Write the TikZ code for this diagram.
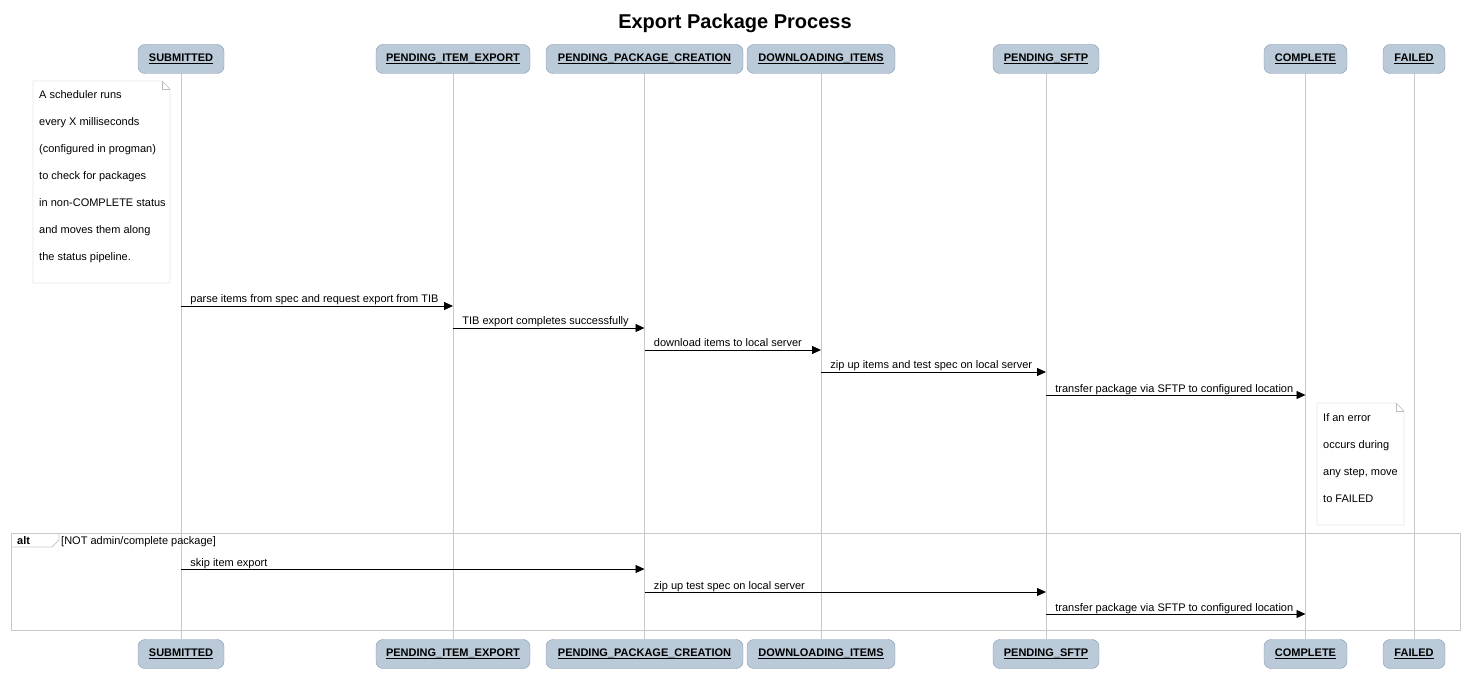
\documentclass[tikz,border=0pt]{standalone}
\usepackage{fontspec}
\setmainfont{Liberation Sans}
\usetikzlibrary{arrows.meta}
\definecolor{partfill}{HTML}{BACAD8}
\definecolor{partline}{HTML}{8497B0}
\definecolor{lifegray}{HTML}{C8C8C8}
\definecolor{notegray}{HTML}{BBBBBB}
% underline that runs through the underscores
\newcommand{\ulabel}[1]{\setbox0\hbox{#1}\rlap{\rule[-2.3pt]{\wd0}{0.8pt}}\box0}
\tikzset{
  part/.style={draw=partline, fill=partfill, rounded corners=7pt, minimum height=29pt, inner sep=0pt, font=\fontsize{11}{13}\selectfont\bfseries},
  life/.style={draw=lifegray, line width=0.8pt},
  msg/.style={line width=0.8pt, -{Triangle[length=9pt,width=8pt]}},
  lbl/.style={anchor=base west, inner sep=0pt, xshift=9pt, yshift=3pt, font=\fontsize{11}{12}\selectfont},
  notetext/.style={anchor=north west, inner sep=0pt, align=left, font=\fontsize{11}{27}\selectfont}
}
\begin{document}
\begin{tikzpicture}[x=1pt, y=-1pt]
  \useasboundingbox (0,0) rectangle (1468,676);
  \node[font=\fontsize{20}{24}\selectfont\bfseries] (title) at (735,23) {Export Package Process};
  % participants, top and bottom, with their lifelines
  \foreach \n/\x/\w/\t in {sub/181/86/SUBMITTED, pie/453/154/PENDING\_ITEM\_EXPORT, ppc/644.5/197/PENDING\_PACKAGE\_CREATION, dli/821/148/DOWNLOADING\_ITEMS, sftp/1046/106/PENDING\_SFTP, cmp/1305.5/83/COMPLETE, fail/1414/62/FAILED}{
    \draw[life] (\x,73) -- (\x,639);
    \node[part, minimum width=\w pt] (\n) at (\x,59) {\ulabel{\t}};
    \node[part, minimum width=\w pt] (\n-b) at (\x,654) {\ulabel{\t}};
  }
  % scheduler note
  \draw[notegray, fill=white] (33,81) -- (162,81) -- (170,89) -- (170,283) -- (33,283) -- cycle;
  \draw[notegray] (162,81) -- (162,89) -- (170,89);
  \node[notetext] (note1) at (39,90) {A scheduler runs\\every X milliseconds\\(configured in progman)\\to check for packages\\in non-COMPLETE status\\and moves them along\\the status pipeline.};
  % messages
  \foreach \a/\b/\y/\t in {sub/pie/306/{parse items from spec and request export from TIB}, pie/ppc/328/{TIB export completes successfully}, ppc/dli/350/{download items to local server}, dli/sftp/372/{zip up items and test spec on local server}, sftp/cmp/395/{transfer package via SFTP to configured location}}{
    \draw[msg] (\a |- 0,\y) node[lbl] {\t} -- (\b |- 0,\y);
  }
  % error note
  \draw[notegray, fill=white] (1317,403) -- (1396,403) -- (1404,411) -- (1404,525) -- (1317,525) -- cycle;
  \draw[notegray] (1396,403) -- (1396,411) -- (1404,411);
  \node[notetext] (note2) at (1323,413) {If an error\\occurs during\\any step, move\\to FAILED};
  % alt frame
  \draw[lifegray, line width=0.8pt] (11,533) rectangle (1460,630);
  \draw[lifegray, line width=0.8pt] (11,547) -- (52,547) -- (59,540) -- (59,533);
  \node[anchor=base west, inner sep=0pt, font=\fontsize{11}{12}\selectfont\bfseries] (alt) at (17,544) {alt};
  \node[anchor=base west, inner sep=0pt, font=\fontsize{11}{12}\selectfont] (guard) at (61,544) {[NOT admin/complete package]};
  \foreach \a/\b/\y/\t in {sub/ppc/569/{skip item export}, ppc/sftp/592/{zip up test spec on local server}, sftp/cmp/614/{transfer package via SFTP to configured location}}{
    \draw[msg] (\a |- 0,\y) node[lbl] {\t} -- (\b |- 0,\y);
  }
\end{tikzpicture}
\end{document}
